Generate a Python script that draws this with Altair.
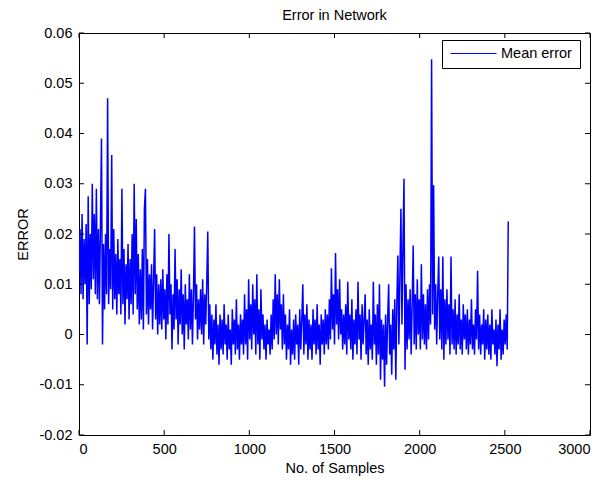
import altair as alt
import pandas as pd

# sample index (every 6th sample) and error values
samples = list(range(0, 2521, 6))

err_seg00 = [0.012, 0.021, 0.008, 0.024, 0.007, 0.019, 0.010, 0.022, -0.002, 0.0275, 0.006, 0.020, 0.009, 0.030, 0.011, 0.024, 0.008, 0.029, 0.007, 0.021]
err_seg01 = [0.006, 0.022, 0.039, -0.002, 0.018, 0.005, 0.020, 0.008, 0.047, 0.006, 0.017, 0.009, 0.0357, 0.005, 0.021, 0.007, 0.016, 0.004, 0.019, 0.008]
err_seg02 = [0.015, 0.004, 0.029, 0.006, 0.017, 0.002, 0.014, 0.007, 0.018, 0.003, 0.015, 0.006, 0.020, 0.004, 0.030, 0.008, 0.023, 0.005, 0.016, 0.002]
err_seg03 = [0.013, 0.003, 0.017, 0.001, 0.025, 0.029, 0.004, 0.015, 0.002, 0.012, 0.005, 0.014, 0.001, 0.011, 0.021, 0.003, 0.012, 0.000, 0.010, 0.002]
err_seg04 = [0.011, 0.001, 0.013, 0.003, 0.009, -0.001, 0.012, 0.002, 0.020, 0.004, 0.010, -0.003, 0.008, 0.001, 0.017, 0.003, 0.011, -0.002, 0.009, 0.002]
err_seg05 = [0.013, 0.000, 0.008, -0.003, 0.010, 0.002, 0.007, -0.001, 0.012, 0.001, 0.009, -0.002, 0.008, 0.0215, 0.003, 0.010, -0.001, 0.007, 0.001, 0.009]
err_seg06 = [0.000, 0.011, -0.002, 0.008, 0.002, 0.010, 0.0205, -0.001, 0.006, -0.003, 0.004, -0.005, 0.003, -0.002, 0.006, -0.004, 0.002, -0.006, 0.004, -0.003]
err_seg07 = [0.003, -0.004, 0.006, -0.002, 0.002, -0.005, 0.004, -0.003, 0.001, -0.006, 0.005, -0.002, 0.003, -0.004, 0.007, -0.003, 0.002, -0.005, 0.004, -0.002]
err_seg08 = [0.003, -0.004, 0.008, -0.002, 0.005, -0.005, 0.011, -0.001, 0.006, -0.003, 0.010, 0.000, 0.007, -0.004, 0.012, -0.002, 0.005, -0.005, 0.009, -0.001]
err_seg09 = [0.004, -0.003, 0.002, -0.005, 0.003, -0.002, 0.001, -0.004, 0.004, -0.003, 0.007, -0.001, 0.012, 0.000, 0.008, -0.002, 0.011, 0.001, 0.006, -0.003]
err_seg10 = [0.008, -0.002, 0.004, -0.005, 0.002, -0.003, 0.005, -0.006, 0.001, -0.004, 0.003, -0.005, 0.004, -0.002, 0.002, -0.006, 0.005, -0.003, 0.003, 0.010]
err_seg11 = [-0.004, 0.004, -0.002, 0.006, -0.005, 0.003, -0.003, 0.002, -0.005, 0.005, -0.002, 0.003, -0.004, 0.006, -0.003, 0.002, -0.006, 0.004, -0.002, 0.003]
err_seg12 = [-0.004, 0.005, -0.002, 0.004, -0.003, 0.007, -0.001, 0.0132, 0.001, 0.008, -0.002, 0.0162, 0.002, 0.009, -0.001, 0.011, 0.000, 0.005, -0.003, 0.004]
err_seg13 = [-0.002, 0.006, -0.004, 0.0105, -0.001, 0.004, -0.003, 0.007, -0.005, 0.003, -0.002, 0.005, -0.004, 0.0105, -0.001, 0.004, -0.005, 0.006, -0.002, 0.003]
err_seg14 = [0.008, -0.004, 0.003, -0.006, 0.005, -0.003, 0.002, -0.005, 0.0105, -0.002, 0.004, -0.006, 0.006, -0.004, 0.010, -0.009, 0.003, -0.005, 0.002, -0.0104]
err_seg15 = [0.004, -0.006, 0.003, 0.010, -0.004, 0.002, -0.008, 0.005, -0.003, 0.007, -0.009, 0.006, 0.0157, -0.002, 0.012, 0.025, 0.002, 0.018, 0.031, -0.007]
err_seg16 = [0.010, -0.003, 0.007, -0.001, 0.009, -0.004, 0.006, 0.0177, -0.002, 0.008, -0.003, 0.011, 0.000, 0.007, -0.003, 0.014, -0.001, 0.008, -0.002, 0.006]
err_seg17 = [-0.003, 0.009, -0.001, 0.010, 0.002, 0.0548, 0.004, 0.0297, 0.001, 0.010, -0.002, 0.008, 0.0155, -0.001, 0.009, -0.003, 0.0155, -0.005, 0.007, -0.002]
err_seg18 = [0.009, -0.001, 0.006, -0.004, 0.0155, -0.002, 0.005, -0.003, 0.007, -0.004, 0.004, -0.002, 0.008, -0.003, 0.003, -0.004, 0.006, -0.001, 0.004, -0.003]
err_seg19 = [0.005, -0.004, 0.003, -0.002, 0.007, -0.003, 0.002, -0.004, 0.005, -0.001, 0.0127, -0.003, 0.004, -0.004, 0.002, -0.002, 0.005, -0.005, 0.003, -0.003]
err_seg20 = [0.004, -0.004, 0.002, -0.005, 0.005, -0.002, 0.001, -0.004, 0.003, -0.0063, 0.002, -0.003, 0.005, -0.005, 0.001, -0.004, 0.003, -0.002, 0.004, -0.003, 0.0225]

errors = (err_seg00 + err_seg01 + err_seg02 + err_seg03 + err_seg04 + err_seg05
          + err_seg06 + err_seg07 + err_seg08 + err_seg09 + err_seg10 + err_seg11
          + err_seg12 + err_seg13 + err_seg14 + err_seg15 + err_seg16 + err_seg17
          + err_seg18 + err_seg19 + err_seg20)

series_name = ["Mean error"]
x_ticks = [0, 500, 1000, 1500, 2000, 2500, 3000]
y_ticks = [-0.02, -0.01, 0, 0.01, 0.02, 0.03, 0.04, 0.05, 0.06]

n = min(len(samples), len(errors))
df = pd.DataFrame({"sample": samples[:n], "error": errors[:n], "series": series_name[0]})
xt = pd.DataFrame({"sample": x_ticks})
yt = pd.DataFrame({"error": y_ticks})

W, H = 511, 402
FONT = "Liberation Sans"
FS = 14.5

x_scale = alt.Scale(domain=[0, 3000], nice=False, zero=False)
y_scale = alt.Scale(domain=[-0.02, 0.06], nice=False, zero=False)

x_axis = alt.Axis(values=x_ticks, format="d", title="No. of Samples",
                  titleY=37, titleBaseline="alphabetic", labelPadding=7,
                  grid=False, ticks=False, domain=False)
y_axis = alt.Axis(values=y_ticks, title="ERROR",
                  labelExpr="datum.value == 0 ? '0' : (datum.value < 0 ? '-' + format(-datum.value, '.2f') : format(datum.value, '.2f'))",
                  titleX=-52, titleY=H / 2, titleBaseline="alphabetic", titleAngle=-90,
                  labelPadding=7, grid=False, ticks=False, domain=False)

line = alt.Chart(df).mark_line(strokeWidth=1.5, clip=True).encode(
    x=alt.X("sample:Q", scale=x_scale, axis=x_axis),
    y=alt.Y("error:Q", scale=y_scale, axis=y_axis),
    color=alt.Color("series:N",
                    scale=alt.Scale(domain=series_name, range=["#0000ff"]),
                    legend=alt.Legend(title=None, orient="none", legendX=363, legendY=7,
                                      strokeColor="black", fillColor="white", padding=8,
                                      symbolType="stroke", symbolSize=2116, symbolStrokeWidth=1,
                                      clipHeight=11, labelOffset=4,
                                      labelFont=FONT, labelFontSize=FS, labelColor="black",
                                      cornerRadius=0)),
    order="sample:Q",
)

tick_len = 5
xb = alt.Chart(xt).mark_rule(color="black", strokeWidth=1).encode(
    x=alt.X("sample:Q", scale=x_scale, axis=x_axis), y=alt.value(H), y2=alt.value(H - tick_len))
xtop = alt.Chart(xt).mark_rule(color="black", strokeWidth=1).encode(
    x=alt.X("sample:Q", scale=x_scale, axis=x_axis), y=alt.value(0), y2=alt.value(tick_len))
yl = alt.Chart(yt).mark_rule(color="black", strokeWidth=1).encode(
    y=alt.Y("error:Q", scale=y_scale, axis=y_axis), x=alt.value(0), x2=alt.value(tick_len))
yr = alt.Chart(yt).mark_rule(color="black", strokeWidth=1).encode(
    y=alt.Y("error:Q", scale=y_scale, axis=y_axis), x=alt.value(W), x2=alt.value(W - tick_len))

chart = alt.layer(line, xb, xtop, yl, yr).properties(
    width=W, height=H,
    title=alt.TitleParams("Error in Network", font=FONT, fontSize=FS, fontWeight="normal",
                          color="black", anchor="middle", frame="group", offset=0, dy=9,
                          baseline="alphabetic"),
    padding={"left": 79, "top": 33, "right": 26, "bottom": 45},
    autosize=alt.AutoSizeParams(type="none"),
    background="white",
).configure_view(stroke="black", strokeWidth=1).configure_axis(
    labelFont=FONT, labelFontSize=FS, labelColor="black",
    titleFont=FONT, titleFontSize=FS, titleFontWeight="normal", titleColor="black",
)

chart.save("out.html", embed_options={"renderer": "svg", "actions": False})
